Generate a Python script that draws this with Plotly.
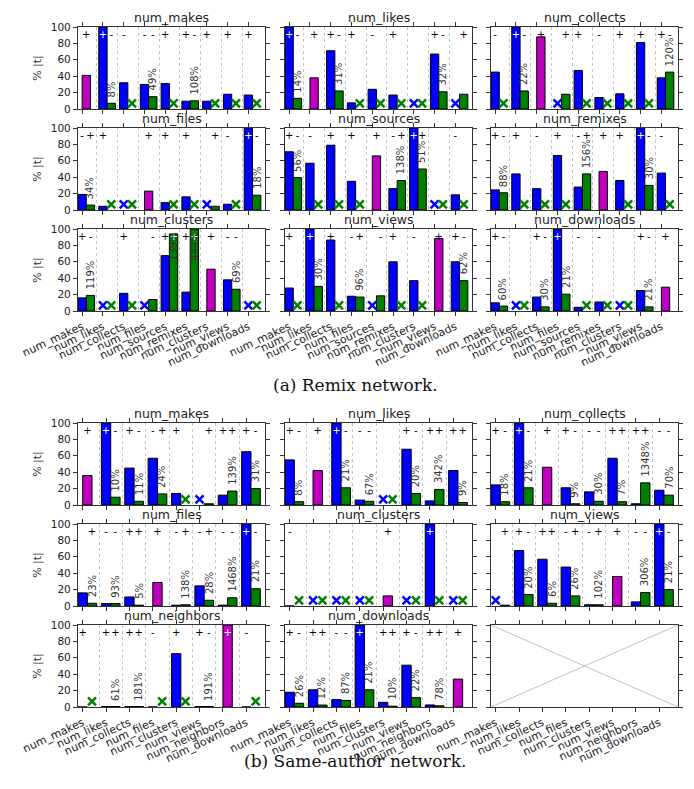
import plotly.graph_objects as go

W, H = 694, 789

cats_a = ["num_makes", "num_likes", "num_collects", "num_files", "num_sources",
          "num_remixes", "num_clusters", "num_views", "num_downloads"]
cats_b = ["num_makes", "num_likes", "num_collects", "num_files", "num_clusters",
          "num_views", "num_neighbors", "num_downloads"]

# ---------------- (a) Remix network ----------------
a_makes_self = 41
a_makes_blue = [None, 100, 32, 30, 31, 9.5, 9.5, 18, 17]
a_makes_green = [None, 7, None, 15, None, 10, None, None, None]
a_makes_pct = ["", "8%", "", "49%", "", "108%", "", "", ""]
a_makes_sb = ["", "+", "-", "-", "+", "+", "+", "+", "+"]
a_makes_sg = ["", "-", "", "-", "", "-", "", "", ""]

a_likes_self = 38
a_likes_blue = [100, None, 71, 7.5, 24, 17, None, 67, None]
a_likes_green = [13, None, 22, None, None, None, None, 21, 18]
a_likes_pct = ["14%", "", "31%", "", "", "", "", "32%", ""]
a_likes_sb = ["+", "", "+", "+", "-", "+", "", "+", ""]
a_likes_sg = ["-", "", "-", "", "", "", "", "-", "+"]

a_collects_self = 88
a_collects_blue = [45, 100, None, None, 47, 14, 18.5, 81, 38]
a_collects_green = [None, 22, None, 18, None, None, None, None, 45]
a_collects_pct = ["", "22%", "", "", "", "", "", "", "120%"]
a_collects_sb = ["-", "+", "", "", "+", "-", "+", "+", "+"]
a_collects_sg = ["", "-", "", "+", "", "", "", "", "-"]

a_files_self = 23
a_files_blue = [19, 4.5, None, None, 9, 16, None, 7, 100]
a_files_green = [6, None, None, None, None, None, 4.5, None, 18]
a_files_pct = ["34%", "", "", "", "", "", "", "", "18%"]
a_files_sb = ["-", "+", "", "", "+", "+", "", "-", "+"]
a_files_sg = ["+", "", "", "", "", "", "+", "", "-"]

a_sources_self = 66
a_sources_blue = [71, 57, 79, 35, None, 26, 100, None, 18.5]
a_sources_green = [39.5, None, None, None, None, 36, 50, None, None]
a_sources_pct = ["56%", "", "", "", "", "138%", "51%", "", ""]
a_sources_sb = ["+", "-", "+", "+", "", "-", "+", "", "-"]
a_sources_sg = ["-", "", "", "", "", "+", "+", "", ""]

a_remixes_self = 47
a_remixes_blue = [24.5, 44, 26, 66.5, 28, None, 36, 100, 45]
a_remixes_green = [21, None, None, None, 44, None, None, 30, None]
a_remixes_pct = ["88%", "", "", "", "156%", "", "", "30%", ""]
a_remixes_sb = ["+", "+", "-", "+", "-", "", "+", "+", "-"]
a_remixes_sg = ["-", "", "", "", "+", "", "", "-", ""]

a_clusters_self = 51
a_clusters_blue = [16, None, 21.5, None, 67.5, 23, None, 38, None]
a_clusters_green = [19, None, None, 14, 94, 100, None, 26.5, None]
a_clusters_pct = ["119%", "", "", "", "139%", "444%", "", "69%", ""]
a_clusters_sb = ["+", "", "+", "", "+", "+", "", "-", ""]
a_clusters_sg = ["-", "", "", "-", "+", "+", "", "-", ""]

a_views_self = 88.5
a_views_blue = [28, 100, 86.5, 18, None, 60, 37, None, 60]
a_views_green = [None, 30, None, 17, 18.5, None, None, None, 37]
a_views_pct = ["", "30%", "", "96%", "", "", "", "", "62%"]
a_views_sb = ["+", "+", "+", "-", "", "+", "-", "", "+"]
a_views_sg = ["", "", "", "+", "-", "", "", "", "-"]

a_downloads_self = 29
a_downloads_blue = [10, None, 17, 100, 4.5, 11, None, 25, None]
a_downloads_green = [6, None, 5, 20.5, None, None, None, 5, None]
a_downloads_pct = ["60%", "", "30%", "21%", "", "", "", "21%", ""]
a_downloads_sb = ["+", "", "+", "+", "-", "-", "", "+", ""]
a_downloads_sg = ["-", "", "-", "", "", "", "", "-", ""]

# ---------------- (b) Same-author network ----------------
b_makes_self = 36
b_makes_blue = [None, 100, 45, 57, 14, None, 12, 65]
b_makes_green = [None, 9.5, 4.5, 13.5, None, 1.5, 17, 20]
b_makes_pct = ["", "10%", "11%", "24%", "", "", "139%", "31%"]
b_makes_sb = ["", "+", "+", "-", "+", "", "+", "+"]
b_makes_sg = ["", "-", "-", "+", "", "+", "+", "-"]

b_likes_self = 42
b_likes_blue = [55, None, 100, 6, None, 68, 5, 42]
b_likes_green = [4, None, 21, 4.5, None, 14, 19, 3]
b_likes_pct = ["8%", "", "21%", "67%", "", "20%", "342%", "9%"]
b_likes_sb = ["+", "", "+", "-", "", "+", "+", "+"]
b_likes_sg = ["-", "", "-", "-", "", "-", "+", "+"]

b_collects_self = 46
b_collects_blue = [24.5, 100, None, 21, 16, 57, 1.5, 18]
b_collects_green = [4, 21, None, 1.5, 4.5, 4, 27, 12]
b_collects_pct = ["18%", "21%", "", "9%", "30%", "7%", "1348%", "70%"]
b_collects_sb = ["+", "+", "", "+", "-", "+", "+", "-"]
b_collects_sg = ["-", "-", "", "-", "-", "+", "+", "-"]

b_files_self = 28.7
b_files_blue = [16, 3, 11, None, 1, 24.6, 1, 100]
b_files_green = [3.3, 3, 1, None, 1.5, 7, 10, 21]
b_files_pct = ["23%", "93%", "5%", "", "138%", "28%", "1468%", "21%"]
b_files_sb = ["", "-", "+", "", "-", "-", "-", "+"]
b_files_sg = ["+", "-", "+", "", "+", "+", "-", "-"]

b_clusters_self = 12.3
b_clusters_blue = [0, None, None, None, None, None, 100, None]
b_clusters_green = [None, None, None, None, None, None, None, None]
b_clusters_pct = ["", "", "", "", "", "", "", ""]
b_clusters_sb = ["-", "", "", "", "", "", "+", ""]
b_clusters_sg = ["", "", "", "", "", "", "", ""]

b_views_self = 36
b_views_blue = [None, 67.6, 57, 47.5, 1.5, None, 5, 100]
b_views_green = [1, 14, 3.3, 12.3, 1.5, None, 16.4, 20]
b_views_pct = ["", "20%", "6%", "26%", "102%", "", "306%", "21%"]
b_views_sb = ["", "+", "+", "-", "-", "", "-", "+"]
b_views_sg = ["+", "-", "+", "+", "+", "", "-", "-"]

b_neighbors_self = 100
b_neighbors_blue = [0, 0.5, 0.5, 0, 65, 0.5, None, 0]
b_neighbors_green = [None, 0.5, 0.5, None, None, 0.5, None, None]
b_neighbors_pct = ["", "61%", "181%", "", "", "191%", "", ""]
b_neighbors_sb = ["+", "+", "+", "-", "+", "+", "", "-"]
b_neighbors_sg = ["", "+", "+", "", "", "-", "", ""]

b_downloads_self = 34
b_downloads_blue = [18, 21, 9, 100, 5.7, 51, 2.5, None]
b_downloads_green = [4.5, 2.4, 8, 21, 1, 11.4, 1.5, None]
b_downloads_pct = ["26%", "12%", "87%", "21%", "10%", "22%", "78%", ""]
b_downloads_sb = ["+", "+", "-", "+", "+", "+", "+", ""]
b_downloads_sg = ["-", "+", "-", "", "+", "-", "+", ""]

panels_a = [
    ("num_makes", a_makes_self, a_makes_blue, a_makes_green, a_makes_pct, a_makes_sb, a_makes_sg),
    ("num_likes", a_likes_self, a_likes_blue, a_likes_green, a_likes_pct, a_likes_sb, a_likes_sg),
    ("num_collects", a_collects_self, a_collects_blue, a_collects_green, a_collects_pct, a_collects_sb, a_collects_sg),
    ("num_files", a_files_self, a_files_blue, a_files_green, a_files_pct, a_files_sb, a_files_sg),
    ("num_sources", a_sources_self, a_sources_blue, a_sources_green, a_sources_pct, a_sources_sb, a_sources_sg),
    ("num_remixes", a_remixes_self, a_remixes_blue, a_remixes_green, a_remixes_pct, a_remixes_sb, a_remixes_sg),
    ("num_clusters", a_clusters_self, a_clusters_blue, a_clusters_green, a_clusters_pct, a_clusters_sb, a_clusters_sg),
    ("num_views", a_views_self, a_views_blue, a_views_green, a_views_pct, a_views_sb, a_views_sg),
    ("num_downloads", a_downloads_self, a_downloads_blue, a_downloads_green, a_downloads_pct, a_downloads_sb, a_downloads_sg),
]
panels_b = [
    ("num_makes", b_makes_self, b_makes_blue, b_makes_green, b_makes_pct, b_makes_sb, b_makes_sg),
    ("num_likes", b_likes_self, b_likes_blue, b_likes_green, b_likes_pct, b_likes_sb, b_likes_sg),
    ("num_collects", b_collects_self, b_collects_blue, b_collects_green, b_collects_pct, b_collects_sb, b_collects_sg),
    ("num_files", b_files_self, b_files_blue, b_files_green, b_files_pct, b_files_sb, b_files_sg),
    ("num_clusters", b_clusters_self, b_clusters_blue, b_clusters_green, b_clusters_pct, b_clusters_sb, b_clusters_sg),
    ("num_views", b_views_self, b_views_blue, b_views_green, b_views_pct, b_views_sb, b_views_sg),
    ("num_neighbors", b_neighbors_self, b_neighbors_blue, b_neighbors_green, b_neighbors_pct, b_neighbors_sb, b_neighbors_sg),
    ("num_downloads", b_downloads_self, b_downloads_blue, b_downloads_green, b_downloads_pct, b_downloads_sb, b_downloads_sg),
    None,
]

BLUE = "#0000ff"
GREEN = "#008000"
MAGENTA = "#bf00bf"
FRAME = "#333333"
FONT = "DejaVu Sans"

col_x = [70, 277, 483]
PW, PH = 187, 82
rows_a = [19, 120, 221]
rows_b = [415, 516, 617]

fig = go.Figure()
layout = {}
annotations = []
shapes = []
k = 0
for cats, plist, tops in [(cats_a, panels_a, rows_a), (cats_b, panels_b, rows_b)]:
    n = len(cats)
    for j in range(9):
        k += 1
        r, c = divmod(j, 3)
        s = "" if k == 1 else str(k)
        xa, ya = "x" + s, "y" + s
        left, top = col_x[c], tops[r]
        dom_x = [left / W, (left + PW) / W]
        dom_y = [1 - (top + PH) / H, 1 - top / H]
        p = plist[j]
        line = dict(color="black", width=1)
        if p is not None:
            title, selfval, blue, green, pct, sb, sg = p
            si = cats.index(title)
            bx = [i for i in range(n) if blue[i] is not None]
            fig.add_trace(go.Bar(x=bx, y=[blue[i] for i in bx], width=0.4,
                                 marker=dict(color=BLUE, line=line), xaxis=xa, yaxis=ya))
            gx = [i for i in range(n) if green[i] is not None]
            fig.add_trace(go.Bar(x=[i + 0.4 for i in gx], y=[green[i] for i in gx], width=0.4,
                                 marker=dict(color=GREEN, line=line), xaxis=xa, yaxis=ya))
            fig.add_trace(go.Bar(x=[si + 0.2], y=[selfval], width=0.4,
                                 marker=dict(color=MAGENTA, line=line), xaxis=xa, yaxis=ya))
            mbx = [i for i in range(n) if blue[i] is None and i != si]
            mgx = [i + 0.4 for i in range(n) if green[i] is None and i != si]
            fig.add_trace(go.Scatter(x=mbx, y=[7] * len(mbx), mode="markers",
                                     marker=dict(symbol="x-thin", size=8, line=dict(color=BLUE, width=2.5)),
                                     xaxis=xa, yaxis=ya))
            fig.add_trace(go.Scatter(x=mgx, y=[7] * len(mgx), mode="markers",
                                     marker=dict(symbol="x-thin", size=8, line=dict(color=GREEN, width=2.5)),
                                     xaxis=xa, yaxis=ya))
            signs = {"black": ([], []), "white": ([], [])}
            for i in range(n):
                if sb[i]:
                    col = "white" if (blue[i] or 0) >= 92 else "black"
                    signs[col][0].append(i); signs[col][1].append(sb[i])
                if sg[i]:
                    col = "white" if (green[i] or 0) >= 92 else "black"
                    signs[col][0].append(i + 0.4); signs[col][1].append(sg[i])
            col = "white" if selfval >= 92 else "black"
            signs[col][0].append(si + 0.2); signs[col][1].append("+")
            for col, (tx, tt) in signs.items():
                if tx:
                    fig.add_trace(go.Scatter(x=tx, y=[90] * len(tx), mode="text", text=tt,
                                             textposition="middle center",
                                             textfont=dict(color=col, size=10, family=FONT),
                                             xaxis=xa, yaxis=ya))
            for i in range(n):
                if pct[i]:
                    g = green[i] or 0
                    hu = len(pct[i]) * 0.62 * 10 / PH * 100
                    if g + 5 + hu > 100:
                        yy, yanc = 99, "top"
                    else:
                        yy, yanc = g + 5, "bottom"
                    annotations.append(dict(x=i + 0.4, y=yy, xref=xa, yref=ya, text=pct[i],
                                            textangle=-90, showarrow=False, yanchor=yanc,
                                            xanchor="center",
                                            font=dict(size=10, color="#333", family=FONT)))
            annotations.append(dict(x=0.5, y=1, xref=xa + " domain", yref=ya + " domain",
                                    text=title, showarrow=False, yanchor="bottom", yshift=0,
                                    font=dict(size=12.5, color="#222", family=FONT)))
        else:
            fig.add_trace(go.Scatter(x=[], y=[], xaxis=xa, yaxis=ya, showlegend=False))
            for (x0, y0, x1, y1) in [(0, 0, 1, 1), (0, 1, 1, 0)]:
                shapes.append(dict(type="line", xref=xa + " domain", yref=ya + " domain",
                                   x0=x0, y0=y0, x1=x1, y1=y1,
                                   line=dict(color="#c0c0c0", width=1)))
        layout["xaxis" + s] = dict(
            domain=dom_x, anchor=ya, range=[-0.2, n - 0.2], automargin=False,
            tickmode="array", tickvals=list(range(n)), ticktext=cats,
            showticklabels=(r == 2), tickangle=-25,
            tickfont=dict(size=11, color="#222", family=FONT),
            ticks="outside", ticklen=4, tickcolor=FRAME, tickwidth=1,
            showline=True, linecolor=FRAME, linewidth=1.2, mirror="ticks",
            showgrid=False, zeroline=False,
            minor=dict(tickmode="array", tickvals=[i + 0.7 for i in range(n - 1)],
                       showgrid=(p is not None), gridcolor="#c4c4c4", griddash="dot",
                       gridwidth=1, ticks=""),
        )
        ydict = dict(
            domain=dom_y, anchor=xa, range=[0, 100], automargin=False,
            tickmode="array", tickvals=[0, 20, 40, 60, 80, 100],
            showticklabels=(c == 0),
            tickfont=dict(size=10.5, color="#222", family=FONT),
            ticks="outside", ticklen=4, tickcolor=FRAME, tickwidth=1,
            showline=True, linecolor=FRAME, linewidth=1.2, mirror="ticks",
            showgrid=False, zeroline=False,
        )
        if c == 0:
            ydict["title"] = dict(text="% |t|", font=dict(size=11, color="#333", family=FONT),
                                  standoff=6)
        layout["yaxis" + s] = ydict

annotations.append(dict(x=0.5, y=1 - 377 / H, xref="paper", yref="paper",
                        text="(a) Remix network.", showarrow=False,
                        font=dict(size=17, color="#111", family="DejaVu Serif")))
annotations.append(dict(x=0.5, y=1 - 765 / H, xref="paper", yref="paper",
                        text="(b) Same-author network.", showarrow=False,
                        font=dict(size=17, color="#111", family="DejaVu Serif")))

fig.update_layout(
    width=W, height=H, margin=dict(l=0, r=0, t=0, b=0),
    paper_bgcolor="white", plot_bgcolor="white",
    showlegend=False, barmode="overlay",
    font=dict(family=FONT, size=11, color="#222"),
    annotations=annotations, shapes=shapes,
    **layout,
)
fig.write_html("out.html")
